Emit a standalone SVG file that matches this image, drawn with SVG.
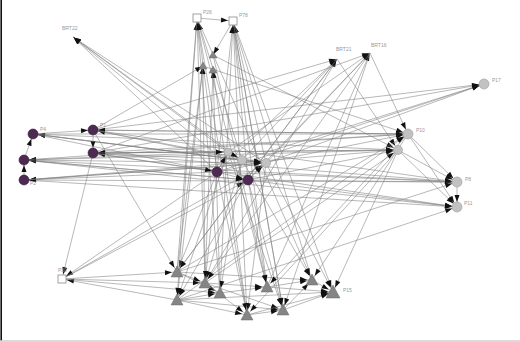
<svg xmlns="http://www.w3.org/2000/svg" width="520" height="342" viewBox="0 0 520 342">
<style>
.e line{stroke:#808080;stroke-width:0.7;stroke-opacity:0.8;fill:none}
.e line{marker-end:url(#arr)}
.e line.n{marker-end:url(#arrN)}
.pu{fill:#4e2a52;stroke:#331a36;stroke-width:0.6}
.gc{fill:#c2c2c2;stroke:#9a9a9a;stroke-width:0.6}
.tr{fill:#858585;stroke:#6a6a6a;stroke-width:0.5}
.bx{fill:#fff;stroke:#8a8a8a;stroke-width:0.8}
.lb{font-family:"Liberation Sans",Arial,sans-serif;font-size:5px;fill:#999999}
</style>
<defs>
<marker id="arr" viewBox="0 0 7 5" markerWidth="7" markerHeight="5" refX="12" refY="2.5" orient="auto" markerUnits="userSpaceOnUse" style="overflow:visible">
<path d="M0,0 L7,2.5 L0,5 z" fill="#111"/>
</marker>
<marker id="arrN" viewBox="0 0 7 5" markerWidth="7" markerHeight="5" refX="8" refY="2.5" orient="auto" markerUnits="userSpaceOnUse" style="overflow:visible">
<path d="M0,0 L7,2.5 L0,5 z" fill="#111"/>
</marker>
</defs>
<rect width="520" height="342" fill="#fff"/>
<!-- frame -->
<line x1="1.2" y1="0" x2="1.2" y2="341" stroke="#111" stroke-width="1.6"/>
<line x1="0" y1="341" x2="520" y2="341" stroke="#cfcfcf" stroke-width="1.4"/>

<g id="connectors" class="e">
<line class="n" x1="217" y1="172" x2="73" y2="37"/>
<line class="n" x1="248" y1="180" x2="73" y2="37"/>
<line class="n" x1="242" y1="160" x2="73" y2="37"/>
<line class="n" x1="266" y1="163" x2="73" y2="37"/>
<line class="n" x1="228" y1="152" x2="73" y2="37"/>
<line x1="177" y1="272" x2="197" y2="18"/>
<line x1="205" y1="283" x2="197" y2="18"/>
<line x1="247" y1="315" x2="197" y2="18"/>
<line x1="267" y1="287" x2="197" y2="18"/>
<line x1="217" y1="172" x2="197" y2="18"/>
<line x1="242" y1="160" x2="197" y2="18"/>
<line x1="220" y1="293" x2="197" y2="18"/>
<line x1="247" y1="315" x2="233" y2="21"/>
<line x1="267" y1="287" x2="233" y2="21"/>
<line x1="283" y1="310" x2="233" y2="21"/>
<line x1="312" y1="280" x2="233" y2="21"/>
<line x1="248" y1="180" x2="233" y2="21"/>
<line x1="266" y1="163" x2="233" y2="21"/>
<line x1="220" y1="293" x2="233" y2="21"/>
<line x1="205" y1="283" x2="233" y2="21"/>
<line x1="197" y1="18" x2="233" y2="21"/>
<line class="n" x1="233" y1="21" x2="213" y2="55"/>
<line class="n" x1="205" y1="283" x2="203" y2="66"/>
<line class="n" x1="220" y1="293" x2="213" y2="70"/>
<line class="n" x1="247" y1="315" x2="213" y2="70"/>
<line class="n" x1="177" y1="272" x2="203" y2="66"/>
<line class="n" x1="93" y1="130" x2="203" y2="66"/>
<line x1="213" y1="55" x2="398" y2="150"/>
<line x1="203" y1="66" x2="408" y2="134"/>
<line class="n" x1="217" y1="172" x2="337" y2="59"/>
<line class="n" x1="242" y1="160" x2="337" y2="59"/>
<line class="n" x1="177" y1="272" x2="337" y2="59"/>
<line class="n" x1="205" y1="283" x2="337" y2="59"/>
<line class="n" x1="93" y1="130" x2="337" y2="59"/>
<line class="n" x1="248" y1="180" x2="370" y2="53"/>
<line class="n" x1="266" y1="163" x2="370" y2="53"/>
<line class="n" x1="267" y1="287" x2="370" y2="53"/>
<line class="n" x1="93" y1="153" x2="370" y2="53"/>
<line class="n" x1="228" y1="152" x2="370" y2="53"/>
<line x1="370" y1="53" x2="408" y2="134"/>
<line x1="337" y1="59" x2="398" y2="150"/>
<line x1="93" y1="130" x2="484" y2="84"/>
<line x1="93" y1="153" x2="484" y2="84"/>
<line x1="242" y1="160" x2="484" y2="84"/>
<line x1="266" y1="163" x2="484" y2="84"/>
<line x1="217" y1="172" x2="484" y2="84"/>
<line x1="33" y1="134" x2="408" y2="134"/>
<line x1="93" y1="130" x2="408" y2="134"/>
<line x1="217" y1="172" x2="408" y2="134"/>
<line x1="177" y1="272" x2="408" y2="134"/>
<line x1="177" y1="300" x2="408" y2="134"/>
<line x1="93" y1="153" x2="398" y2="150"/>
<line x1="248" y1="180" x2="398" y2="150"/>
<line x1="205" y1="283" x2="398" y2="150"/>
<line x1="24" y1="160" x2="457" y2="182"/>
<line x1="93" y1="153" x2="457" y2="182"/>
<line x1="217" y1="172" x2="457" y2="182"/>
<line x1="248" y1="180" x2="457" y2="182"/>
<line x1="408" y1="134" x2="457" y2="182"/>
<line x1="177" y1="272" x2="457" y2="182"/>
<line x1="24" y1="180" x2="457" y2="207"/>
<line x1="24" y1="160" x2="457" y2="207"/>
<line x1="248" y1="180" x2="457" y2="207"/>
<line x1="408" y1="134" x2="457" y2="207"/>
<line x1="398" y1="150" x2="457" y2="207"/>
<line x1="177" y1="300" x2="457" y2="207"/>
<line x1="457" y1="182" x2="457" y2="207"/>
<line x1="266" y1="163" x2="33" y2="134"/>
<line x1="242" y1="160" x2="33" y2="134"/>
<line x1="24" y1="160" x2="33" y2="134"/>
<line x1="33" y1="134" x2="93" y2="130"/>
<line x1="242" y1="160" x2="93" y2="130"/>
<line x1="408" y1="134" x2="93" y2="130"/>
<line x1="228" y1="152" x2="24" y2="160"/>
<line x1="266" y1="163" x2="24" y2="160"/>
<line x1="24" y1="180" x2="24" y2="160"/>
<line x1="248" y1="180" x2="24" y2="160"/>
<line x1="398" y1="150" x2="24" y2="160"/>
<line x1="217" y1="172" x2="24" y2="180"/>
<line x1="266" y1="163" x2="24" y2="180"/>
<line x1="457" y1="182" x2="24" y2="180"/>
<line x1="242" y1="160" x2="93" y2="153"/>
<line x1="93" y1="130" x2="93" y2="153"/>
<line x1="398" y1="150" x2="93" y2="153"/>
<line x1="217" y1="172" x2="93" y2="153"/>
<line x1="408" y1="134" x2="93" y2="153"/>
<line x1="93" y1="153" x2="62" y2="279"/>
<line x1="177" y1="300" x2="62" y2="279"/>
<line x1="217" y1="172" x2="62" y2="279"/>
<line x1="62" y1="279" x2="177" y2="272"/>
<line x1="62" y1="279" x2="205" y2="283"/>
<line x1="62" y1="279" x2="266" y2="163"/>
<line x1="62" y1="279" x2="248" y2="180"/>
<line x1="62" y1="279" x2="220" y2="293"/>
<line x1="93" y1="130" x2="177" y2="272"/>
<line x1="177" y1="272" x2="312" y2="280"/>
<line x1="177" y1="300" x2="333" y2="292"/>
<line x1="205" y1="283" x2="267" y2="287"/>
<line x1="247" y1="315" x2="283" y2="310"/>
<line x1="267" y1="287" x2="333" y2="292"/>
<line x1="283" y1="310" x2="333" y2="292"/>
<line x1="177" y1="272" x2="205" y2="283"/>
<line x1="177" y1="300" x2="247" y2="315"/>
<line x1="312" y1="280" x2="333" y2="292"/>
<line x1="205" y1="283" x2="283" y2="310"/>
<line x1="177" y1="300" x2="283" y2="310"/>
<line x1="267" y1="287" x2="312" y2="280"/>
<line x1="220" y1="293" x2="267" y2="287"/>
<line x1="177" y1="300" x2="220" y2="293"/>
<line x1="177" y1="272" x2="220" y2="293"/>
<line x1="247" y1="315" x2="333" y2="292"/>
<line x1="205" y1="283" x2="247" y2="315"/>
<line x1="283" y1="310" x2="312" y2="280"/>
<line x1="217" y1="172" x2="177" y2="272"/>
<line x1="217" y1="172" x2="247" y2="315"/>
<line x1="248" y1="180" x2="267" y2="287"/>
<line x1="248" y1="180" x2="283" y2="310"/>
<line x1="242" y1="160" x2="205" y2="283"/>
<line x1="242" y1="160" x2="312" y2="280"/>
<line x1="266" y1="163" x2="333" y2="292"/>
<line x1="266" y1="163" x2="247" y2="315"/>
<line x1="228" y1="152" x2="177" y2="300"/>
<line x1="228" y1="152" x2="283" y2="310"/>
<line x1="203" y1="66" x2="177" y2="300"/>
<line x1="213" y1="70" x2="205" y2="283"/>
<line x1="213" y1="55" x2="267" y2="287"/>
<line x1="337" y1="59" x2="177" y2="272"/>
<line x1="370" y1="53" x2="205" y2="283"/>
<line x1="408" y1="134" x2="267" y2="287"/>
<line x1="408" y1="134" x2="312" y2="280"/>
<line x1="398" y1="150" x2="247" y2="315"/>
<line x1="398" y1="150" x2="333" y2="292"/>
<line x1="370" y1="53" x2="283" y2="310"/>
<line x1="197" y1="18" x2="177" y2="300"/>
<line x1="233" y1="21" x2="283" y2="310"/>
<line x1="242" y1="160" x2="220" y2="293"/>
<line x1="248" y1="180" x2="177" y2="300"/>
<line x1="217" y1="172" x2="248" y2="180"/>
<line x1="242" y1="160" x2="266" y2="163"/>
<line x1="228" y1="152" x2="242" y2="160"/>
<line x1="248" y1="180" x2="266" y2="163"/>
<line x1="217" y1="172" x2="228" y2="152"/>
<line x1="24" y1="180" x2="398" y2="150"/>
<line x1="24" y1="160" x2="408" y2="134"/>
<line x1="33" y1="134" x2="266" y2="163"/>
<line x1="233" y1="21" x2="333" y2="292"/>
<line x1="197" y1="18" x2="312" y2="280"/>
<line x1="33" y1="134" x2="398" y2="150"/>
<line x1="93" y1="130" x2="457" y2="182"/>
<line x1="93" y1="153" x2="457" y2="207"/>
<line x1="24" y1="180" x2="266" y2="163"/>
<line x1="33" y1="134" x2="217" y2="172"/>
<line x1="93" y1="130" x2="266" y2="163"/>
<line x1="398" y1="150" x2="457" y2="182"/>
<line x1="24" y1="160" x2="248" y2="180"/>
<line x1="93" y1="153" x2="228" y2="152"/>
</g>

<!-- purple actors -->
<g id="P4"><circle class="pu" cx="33" cy="134" r="5"/><text class="lb" x="40" y="131">P4</text></g>
<g id="P1"><circle class="pu" cx="93" cy="130" r="5"/><text class="lb" x="100" y="127">P1</text></g>
<g id="P3"><circle class="pu" cx="24" cy="160" r="5"/></g>
<g id="P2"><circle class="pu" cx="24" cy="180" r="5"/><text class="lb" x="30" y="185">P2</text></g>
<g id="P5"><circle class="pu" cx="93" cy="153" r="5"/></g>
<g id="P6"><circle class="pu" cx="217" cy="172" r="5"/></g>
<g id="P7"><circle class="pu" cx="248" cy="180" r="5"/></g>

<!-- grey actors -->
<g id="P10"><circle class="gc" cx="408" cy="134" r="5"/><text class="lb" x="416" y="132">P10</text></g>
<g id="P9"><circle class="gc" cx="398" cy="150" r="4.5"/></g>
<g id="P8"><circle class="gc" cx="457" cy="182" r="5"/><text class="lb" x="465" y="181">P8</text></g>
<g id="P11"><circle class="gc" cx="457" cy="207" r="5"/><text class="lb" x="464" y="205">P11</text></g>
<g id="P17"><circle class="gc" cx="484" cy="84" r="5"/><text class="lb" x="492" y="82">P17</text></g>
<g id="P12"><circle class="gc" cx="242" cy="160" r="4.5"/></g>
<g id="P13"><circle class="gc" cx="266" cy="163" r="4.5"/></g>
<g id="P14"><circle class="gc" cx="228" cy="152" r="4"/></g>

<!-- boxes -->
<g id="P26"><rect class="bx" x="193" y="14" width="8" height="8"/><text class="lb" x="203" y="14">P26</text></g>
<g id="P78"><rect class="bx" x="229" y="17" width="8" height="8"/><text class="lb" x="239" y="17">P78</text></g>
<g id="P30"><rect class="bx" x="58" y="275" width="8" height="8"/><text class="lb" x="58" y="272">P30</text></g>

<!-- documents -->
<g id="BRT22"><text class="lb" x="62" y="30">BRT22</text></g>
<g id="BRT21"><text class="lb" x="336" y="51">BRT21</text></g>
<g id="BRT16"><text class="lb" x="371" y="47">BRT16</text></g>

<!-- small top nodes -->
<g id="N1"><polygon class="tr" points="213,51 209,58 217,58"/></g>
<g id="N2"><polygon class="tr" points="203,62 199,69 207,69"/></g>
<g id="N3"><polygon class="tr" points="213,66 209,73 217,73"/></g>

<!-- triangles -->
<g id="T1"><polygon class="tr" points="177,266 171,277 183,277"/></g>
<g id="T2"><polygon class="tr" points="177,294 171,305 183,305"/></g>
<g id="T3"><polygon class="tr" points="205,277 199,288 211,288"/></g>
<g id="T9"><polygon class="tr" points="220,287 214,298 226,298"/></g>
<g id="T4"><polygon class="tr" points="247,309 241,320 253,320"/></g>
<g id="T5"><polygon class="tr" points="267,281 261,292 273,292"/></g>
<g id="T6"><polygon class="tr" points="283,304 277,315 289,315"/></g>
<g id="T7"><polygon class="tr" points="312,274 306,285 318,285"/></g>
<g id="P15"><polygon class="tr" points="333,285 326,298 340,298"/><text class="lb" x="343" y="292">P15</text></g>
</svg>
